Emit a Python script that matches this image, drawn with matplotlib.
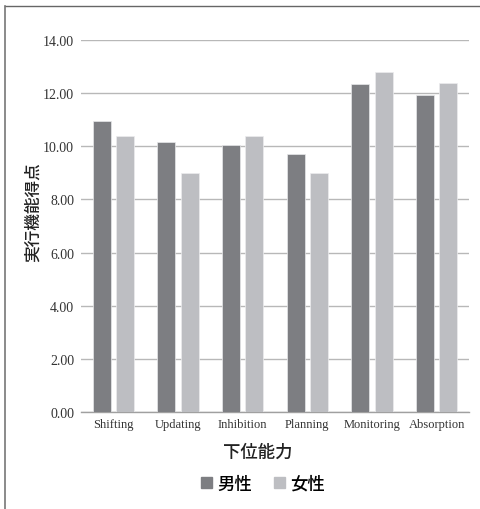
import matplotlib
matplotlib.use("Agg")
import numpy as np
import matplotlib.pyplot as plt
from matplotlib.lines import Line2D
from matplotlib.patches import Patch

# データ
categories = ["Shifting", "Updating", "Inhibition", "Planning", "Monitoring", "Absorption"]
male = [10.96, 10.16, 10.05, 9.70, 12.36, 11.92]
female = [10.38, 8.98, 10.39, 8.98, 12.80, 12.39]
yticks = [0, 2, 4, 6, 8, 10, 12, 14]

cjk = ["Noto Sans CJK JP", "DejaVu Sans"]
serif = "Liberation Serif"
c_male = "#7d7e82"
c_female = "#bdbec2"

fig = plt.figure(figsize=(4.8, 5.1), dpi=100)
ax = fig.add_axes([0.169, 0.190, 0.808, 0.7296])

x = np.arange(len(categories))
w = 0.28
ax.bar(x - 0.18, male, width=w, color=c_male, edgecolor="#e8e8ea", linewidth=0.5, zorder=3)
ax.bar(x + 0.18, female, width=w, color=c_female, edgecolor="#ececee", linewidth=0.5, zorder=3)

ax.set_xlim(-0.5, len(categories) - 0.5)
ax.set_ylim(0, 14)
ax.set_yticks(yticks)
ax.set_yticklabels([f"{v:.2f}" for v in yticks], fontname=serif, fontsize=10, color="#333333")
ax.set_xticks(x)
ax.set_xticklabels(categories, fontname=serif, fontsize=9, color="#333333")
ax.tick_params(length=0, pad=4)
ax.tick_params(axis="y", pad=5)

ax.grid(axis="y", color="#b8b8b8", linewidth=1.0, zorder=0)
ax.set_axisbelow(True)
for s in ["top", "right", "left"]:
    ax.spines[s].set_visible(False)
ax.spines["bottom"].set_color("#a0a0a0")
ax.spines["bottom"].set_linewidth(1.0)

# 軸ラベル
fig.text(0.069, 0.585, "実行機能得点", rotation=90, ha="center", va="center",
         family=cjk, fontsize=12, fontweight="medium", color="#222222")
fig.text(0.537, 0.112, "下位能力", ha="center", va="center",
         family=cjk, fontsize=12.5, fontweight="medium", color="#222222")

# 凡例
handles = [Patch(color=c_male), Patch(color=c_female)]
fig.legend(handles, ["男性", "女性"], loc="center", bbox_to_anchor=(0.548, 0.049),
           ncol=2, frameon=False, prop={"family": cjk, "size": 12.5, "weight": "medium"},
           handlelength=0.6, handleheight=0.6, handletextpad=0.3, columnspacing=1.3)

# 外枠（上と左）
fig.add_artist(Line2D([0.0104, 1.0], [0.986, 0.986], transform=fig.transFigure,
                      color="#666666", linewidth=1.0))
fig.add_artist(Line2D([0.0104, 0.0104], [0.0, 0.986], transform=fig.transFigure,
                      color="#777777", linewidth=1.2))

fig.savefig("out.png", dpi=100)
